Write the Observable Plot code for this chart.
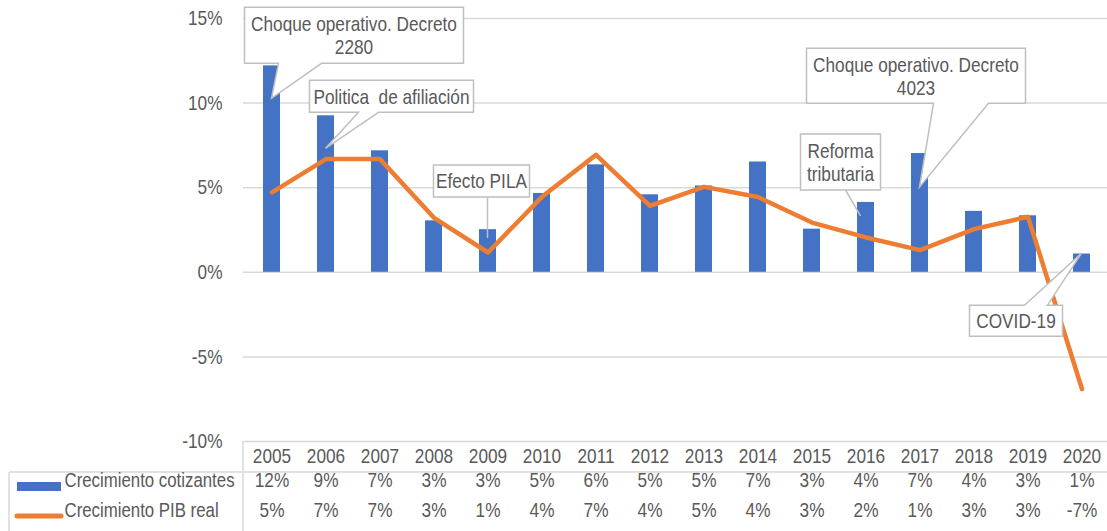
<!DOCTYPE html>
<html><head><meta charset="utf-8">
<script src="https://cdn.jsdelivr.net/npm/d3@7"></script>
<script src="https://cdn.jsdelivr.net/npm/@observablehq/plot@0.6"></script>
<style>body{margin:0;background:#fff} #chart svg{display:block}</style>
</head><body><div id="chart"></div>
<script>
// ---- data ----
const years = ["2005","2006","2007","2008","2009","2010","2011","2012","2013","2014","2015","2016","2017","2018","2019","2020"];
const cotizantes = [12.2, 9.25, 7.18, 3.04, 2.52, 4.66, 6.35, 4.58, 5.1, 6.52, 2.55, 4.13, 7.02, 3.6, 3.34, 1.08];
const pibReal = [4.72, 6.69, 6.69, 3.22, 1.17, 4.46, 6.94, 3.93, 5.05, 4.45, 2.94, 2.06, 1.31, 2.55, 3.28, -6.9];
const yTicks = [-10, -5, 0, 5, 10, 15];
const seriesNames = ["Crecimiento cotizantes", "Crecimiento PIB real"];
const noteTexts = ["Choque operativo. Decreto\n2280", "Politica  de afiliación", "Efecto PILA", "Reforma\ntributaria", "Choque operativo. Decreto\n4023", "COVID-19"];
const noteYears = ["2005", "2006", "2009", "2016", "2017", "2020"];
const noteValues = [10.25, 7.3, 2.0, 3.3, 5.0, 1.1];

// ---- styling / layout ----
const BLUE = "#4472C4", ORANGE = "#ED7D31", TEXT = "#595959", GRID = "#d9d9d9", CALLOUT = "#bfbfbf";
const FONT = "'Liberation Sans','Arial',sans-serif";
const FS = 21;
const NARROW = 0.82; // horizontal compression to imitate a narrow face
// callout box offsets relative to the pointer tip (px)
const calloutLayout = [
  {tdx: 0,  dx: -27,  dy: -91,  w: 219, h: 56, edge: "bottom", b0: 7,   b1: 50},
  {tdx: 0,  dx: -16,  dy: -68,  w: 164, h: 32, edge: "bottom", b0: 33,  b1: 53},
  {tdx: 0,  dx: -54,  dy: -73,  w: 96,  h: 32, edge: "bottom", b0: 0,   b1: 0},
  {tdx: -5, dx: -60,  dy: -82,  w: 80,  h: 56, edge: "bottom", b0: -15, b1: -15},
  {tdx: 0,  dx: -113, dy: -139, w: 219, h: 55, edge: "bottom", b0: 14,  b1: 69},
  {tdx: 0,  dx: -112, dy: 52,   w: 93,  h: 31, edge: "top",    b0: -57, b1: -34}
];

const rows = years.map((year, i) => ({year, cot: cotizantes[i], pib: pibReal[i]}));
const notes = noteTexts.map((text, i) => ({text, year: noteYears[i], value: noteValues[i], ...calloutLayout[i]}));
const pct = v => Math.round(v) + "%";

function centerX(sx, v) {
  const bw = typeof sx.bandwidth === "function" ? sx.bandwidth() : 0;
  return sx(v) + bw / 2;
}

function callouts(index, scales) {
  const g = d3.create("svg:g");
  for (const n of notes) {
    const tx = centerX(scales.x, n.year) + n.tdx;
    const ty = scales.y(n.value);
    const L = tx + n.dx, T = ty + n.dy, R = L + n.w, B = T + n.h;
    let p;
    if (n.edge === "bottom") {
      p = `M${L},${T}H${R}V${B}H${tx + n.b1}L${tx},${ty}L${tx + n.b0},${B}H${L}Z`;
    } else {
      p = `M${L},${T}H${tx + n.b0}L${tx},${ty}L${tx + n.b1},${T}H${R}V${B}H${L}Z`;
    }
    g.append("path").attr("d", p).attr("fill", "white").attr("stroke", CALLOUT)
      .attr("stroke-width", 1.5).attr("stroke-linejoin", "miter");
    const lines = n.text.split("\n");
    const lh = 23;
    const cy = (T + B) / 2 - (lines.length - 1) * lh / 2;
    lines.forEach((s, i) => {
      g.append("text").attr("text-anchor", "middle").attr("fill", TEXT)
        .attr("font-size", FS).attr("font-family", FONT)
        .attr("x", (L + R) / 2).attr("y", cy + i * lh).attr("dy", "0.35em").text(s);
    });
  }
  return g.node();
}

function tableFrame(index, scales, values, dims) {
  const {width, height, marginLeft, marginBottom} = dims;
  const y0 = height - marginBottom;
  const g = d3.create("svg:g");
  const ln = (x1, y1, x2, y2) => g.append("line").attr("x1", x1).attr("y1", y1).attr("x2", x2).attr("y2", y2)
    .attr("stroke", GRID).attr("stroke-width", 1.5);
  ln(marginLeft, y0, marginLeft, height);
  ln(9, y0 + 31, width, y0 + 31);
  ln(9, y0 + 31, 9, height);
  g.append("rect").attr("x", 17).attr("y", y0 + 41).attr("width", 44).attr("height", 9).attr("fill", BLUE);
  g.append("line").attr("x1", 17).attr("x2", 61).attr("y1", y0 + 75).attr("y2", y0 + 75)
    .attr("stroke", ORANGE).attr("stroke-width", 5).attr("stroke-linecap", "round");
  return g.node();
}

const chart = Plot.plot({
  width: 1107,
  height: 531,
  marginLeft: 243,
  marginRight: 0,
  marginTop: 18,
  marginBottom: 90,
  style: {fontFamily: FONT, fontSize: FS + "px", color: TEXT, background: "white"},
  x: {type: "band", domain: years, range: [243, 1111], paddingInner: 0.68, paddingOuter: 0.34, align: 0.5},
  y: {domain: [-10, 15]},
  marks: [
    Plot.gridY(yTicks, {stroke: GRID, strokeOpacity: 1, strokeWidth: 1.5}),
    Plot.barY(rows, {x: "year", y: "cot", fill: BLUE}),
    Plot.lineY(rows, {x: "year", y: "pib", stroke: ORANGE, strokeWidth: 4.5, strokeLinejoin: "round", strokeLinecap: "round"}),
    callouts,
    tableFrame,
    Plot.axisY(yTicks, {tickSize: 0, tickPadding: 21, tickFormat: d => d + "%", label: null, fontSize: FS}),
    Plot.axisX({tickSize: 0, tickPadding: 7, label: null, fontSize: FS}),
    Plot.text(rows, {x: "year", text: d => pct(d.cot), frameAnchor: "bottom", dy: 45, fontSize: FS, fill: TEXT}),
    Plot.text(rows, {x: "year", text: d => pct(d.pib), frameAnchor: "bottom", dy: 75, fontSize: FS, fill: TEXT}),
    Plot.text([seriesNames[0]], {text: d => d, frameAnchor: "bottom-left", dx: -179, dy: 45, textAnchor: "start", fontSize: 20.5, fill: TEXT}),
    Plot.text([seriesNames[1]], {text: d => d, frameAnchor: "bottom-left", dx: -179, dy: 75, textAnchor: "start", fontSize: 20.5, fill: TEXT})
  ]
});
document.getElementById("chart").appendChild(chart);

// compress glyphs horizontally to imitate the narrow typeface of the original
chart.querySelectorAll("text").forEach(t => {
  const ts = t.querySelectorAll("tspan");
  const targets = ts.length ? Array.from(ts) : [t];
  targets.forEach(el => {
    const len = el.getComputedTextLength();
    if (len > 0) {
      el.setAttribute("textLength", (len * NARROW).toFixed(2));
      el.setAttribute("lengthAdjust", "spacingAndGlyphs");
    }
  });
});
</script>
</body></html>
